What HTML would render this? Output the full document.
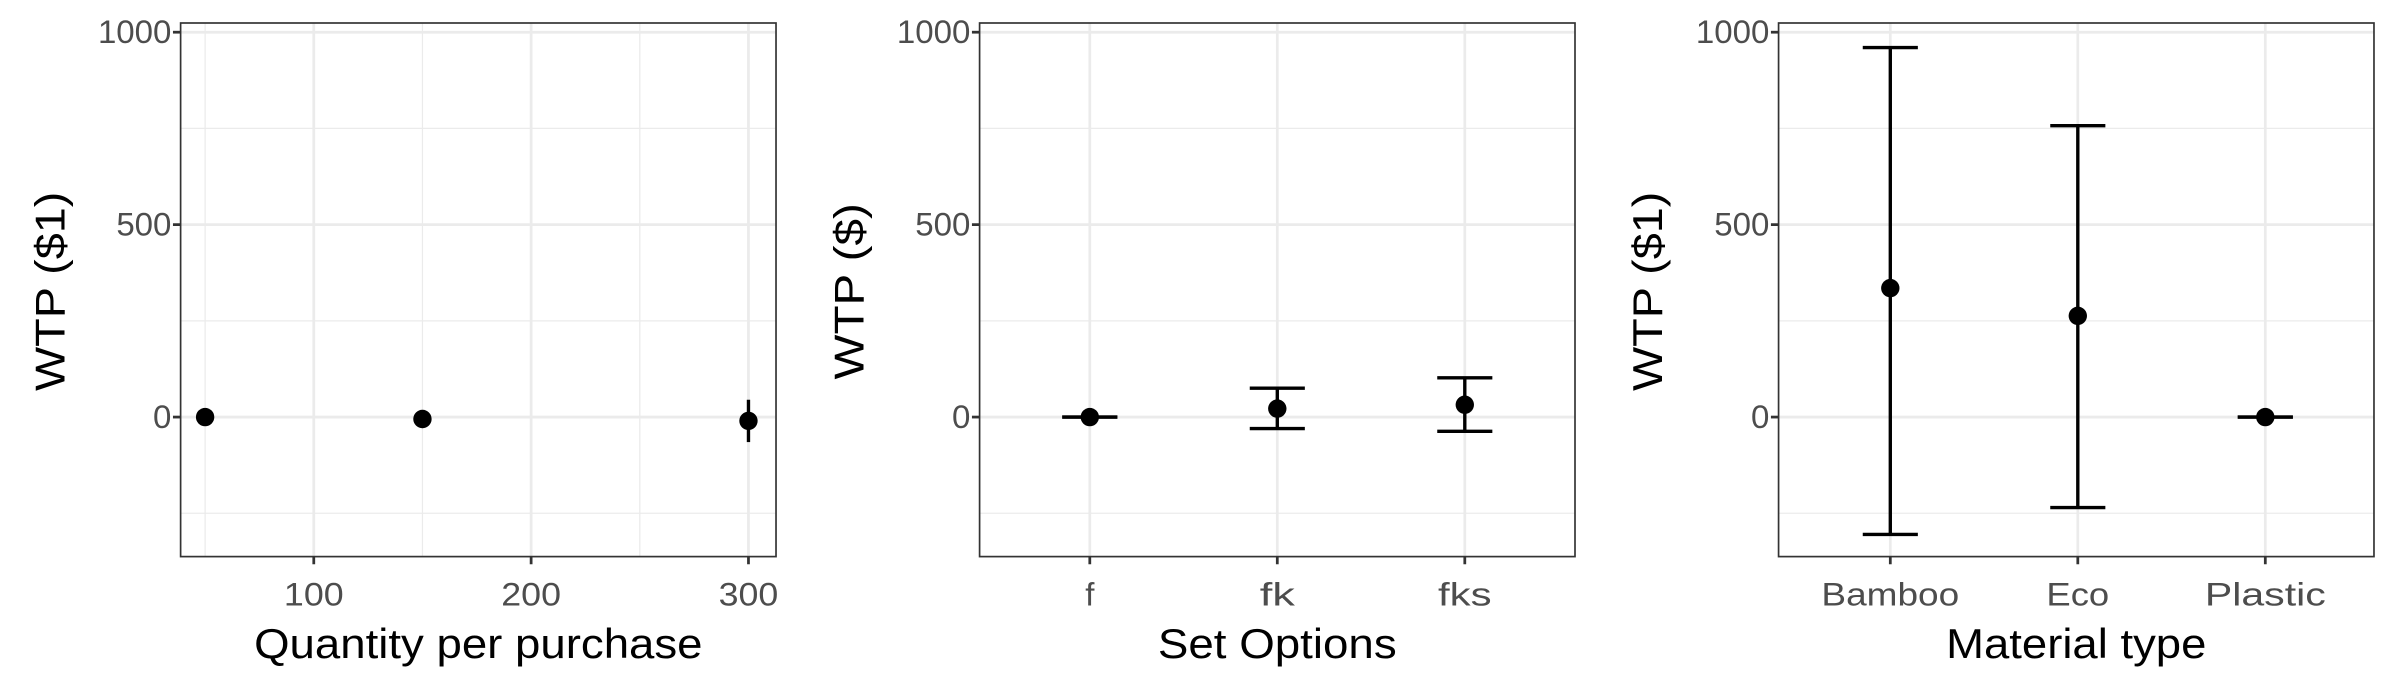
<!DOCTYPE html>
<html><head><meta charset="utf-8"><style>
html,body{margin:0;padding:0;background:#fff;}
svg{display:block;font-family:"Liberation Sans",Arial,sans-serif;}
</style></head><body>
<svg id="chart" width="2400" height="690" viewBox="0 0 1568 450" preserveAspectRatio="none" xmlns="http://www.w3.org/2000/svg"></svg>
<script>
// Panel 1 data
const qtyValues = [50, 150, 300];
const qtyMeans = [0, -5, -10];
const qtyLow = [-3, -8, -65];
const qtyHigh = [3, -2, 45];
const qtyTicks = [100, 200, 300];
const qtyMinorTicks = [50, 150, 250];
// Panel 2 data
const setCats = ["f", "fk", "fks"];
const setMeans = [0, 22, 32];
const setLow = [0, -30, -37];
const setHigh = [0, 75, 102];
// Panel 3 data
const matCats = ["Bamboo", "Eco", "Plastic"];
const matMeans = [335, 263, 0];
const matLow = [-305, -235, 0];
const matHigh = [960, 757, 0];
const yTicks = [0, 500, 1000];
const yMinor = [-250, 250, 750];

const svgEl = document.getElementById('chart');
const NS = 'http://www.w3.org/2000/svg';
function mk(tag, attrs, parent) {
  const e = document.createElementNS(NS, tag);
  for (const k in attrs) e.setAttribute(k, attrs[k]);
  (parent || svgEl).appendChild(e);
  return e;
}
const catWidths = {"f": 6, "fk": 23, "fks": 35, "Bamboo": 90, "Eco": 41, "Plastic": 79};
const plotTop = 15, plotBottom = 363;
function yScale(v) { return 272 - v * (251 / 1000); }

function panel(opt) {
  const g = mk('g', {});
  
  
  const L = opt.left, R = opt.left + 389;
  yMinor.forEach(v => mk('line', {x1: L, x2: R, y1: yScale(v), y2: yScale(v), stroke: '#ebebeb', 'stroke-width': 0.8}, g));
  (opt.xMinor || []).forEach(p => mk('line', {x1: p, x2: p, y1: plotTop, y2: plotBottom, stroke: '#ebebeb', 'stroke-width': 0.8}, g));
  yTicks.forEach(v => mk('line', {x1: L, x2: R, y1: yScale(v), y2: yScale(v), stroke: '#ebebeb', 'stroke-width': 1.8}, g));
  opt.xMajor.forEach(p => mk('line', {x1: p, x2: p, y1: plotTop, y2: plotBottom, stroke: '#ebebeb', 'stroke-width': 1.8}, g));
  opt.xs.forEach((x, i) => {
    const eb = mk('g', {}, g);
    
    
    mk('line', {x1: x, x2: x, y1: yScale(opt.high[i]), y2: yScale(opt.low[i]), stroke: '#000', 'stroke-width': 2.2}, eb);
    if (opt.cap) {
      mk('line', {x1: x - opt.cap, x2: x + opt.cap, y1: yScale(opt.high[i]), y2: yScale(opt.high[i]), stroke: '#000', 'stroke-width': 2.2}, eb);
      mk('line', {x1: x - opt.cap, x2: x + opt.cap, y1: yScale(opt.low[i]), y2: yScale(opt.low[i]), stroke: '#000', 'stroke-width': 2.2}, eb);
    }
    const c = mk('circle', {cx: x, cy: yScale(opt.means[i]), r: 6, fill: '#000'}, g);
    
    
  });
  const border = mk('rect', {x: L, y: plotTop, width: 389, height: plotBottom - plotTop, fill: 'none', stroke: '#333', 'stroke-width': 1.1}, g);
  
  
  yTicks.forEach(v => {
    mk('line', {x1: L - 5, x2: L, y1: yScale(v), y2: yScale(v), stroke: '#333', 'stroke-width': 1.8}, g);
    const s = String(v);
    const t = mk('text', {x: L - 6, y: yScale(v) + 7, 'text-anchor': 'end', 'font-size': 21, fill: '#4d4d4d', textLength: s.length * 12, lengthAdjust: 'spacingAndGlyphs'}, g);
    t.textContent = s;
    
    
  });
  opt.tickPos.forEach((p, i) => {
    mk('line', {x1: p, x2: p, y1: plotBottom, y2: plotBottom + 5, stroke: '#333', 'stroke-width': 1.8}, g);
    const s = String(opt.tickLabels[i]);
    const w = catWidths[s] || s.length * 13;
    const t = mk('text', {x: p, y: 395, 'text-anchor': 'middle', 'font-size': 21, fill: '#4d4d4d', textLength: w, lengthAdjust: 'spacingAndGlyphs'}, g);
    t.textContent = s;
    
    
  });
  const xt = mk('text', {x: (L + R) / 2, y: 429, 'text-anchor': 'middle', 'font-size': 27, fill: '#000', textLength: opt.xTitleW, lengthAdjust: 'spacingAndGlyphs'}, g);
  xt.textContent = opt.xTitle;
  
  
  const yt = mk('text', {x: 0, y: 0, 'text-anchor': 'middle', 'font-size': 27, fill: '#000', textLength: opt.yTitleW, lengthAdjust: 'spacingAndGlyphs', transform: 'translate(' + (opt.left - 76) + ',190) rotate(-90)'}, g);
  yt.textContent = opt.yTitle;
  
  
}

function xq(v) { return 205 + (v - 100) * 1.42; }
panel({
  name: 'quantity-panel', left: 118,
  xs: qtyValues.map(xq), means: qtyMeans, low: qtyLow, high: qtyHigh, labels: qtyValues.map(String), cap: 0,
  xMajor: qtyTicks.map(xq), xMinor: qtyMinorTicks.map(xq),
  tickPos: qtyTicks.map(xq), tickLabels: qtyTicks,
  xTitle: 'Quantity per purchase', xTitleW: 293, yTitle: 'WTP ($1)', yTitleW: 130
});
function catX(left, i) { return left + 94 + i * 122.5; }
panel({
  name: 'set-options-panel', left: 640,
  xs: setCats.map((c, i) => catX(640 - 22, i)), means: setMeans, low: setLow, high: setHigh, labels: setCats, cap: 18,
  xMajor: setCats.map((c, i) => catX(640 - 22, i)),
  tickPos: setCats.map((c, i) => catX(640 - 22, i)), tickLabels: setCats,
  xTitle: 'Set Options', xTitleW: 156, yTitle: 'WTP ($)', yTitleW: 115
});
panel({
  name: 'material-panel', left: 1162,
  xs: matCats.map((c, i) => catX(1162 - 21, i)), means: matMeans, low: matLow, high: matHigh, labels: matCats, cap: 18,
  xMajor: matCats.map((c, i) => catX(1162 - 21, i)),
  tickPos: matCats.map((c, i) => catX(1162 - 21, i)), tickLabels: matCats,
  xTitle: 'Material type', xTitleW: 170, yTitle: 'WTP ($1)', yTitleW: 130
});
</script>
</body></html>
